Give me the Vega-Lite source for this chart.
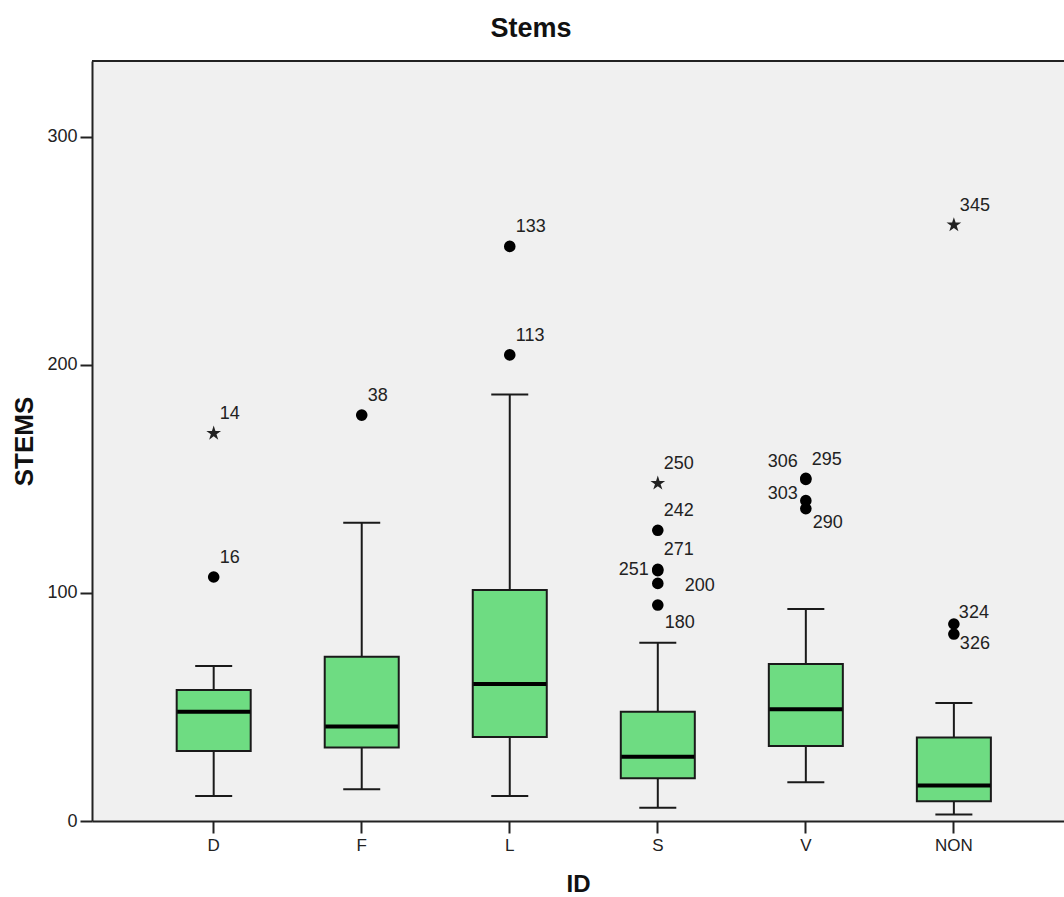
{
  "$schema": "https://vega.github.io/schema/vega-lite/v6.json",
  "autosize": {"type": "none"},
  "padding": {"left": 92, "top": 61, "right": 0, "bottom": 76},
  "width": 972,
  "height": 760,
  "background": "white",
  "title": {"text": "Stems", "fontSize": 27, "font": "Liberation Sans", "fontWeight": "bold", "color": "#111", "anchor": "middle", "dx": -47, "offset": 17},
  "datasets": {
    "boxes": [
      {"id": "D", "lower": 11, "q1": 30.7, "median": 47.9, "q3": 57.5, "upper": 68},
      {"id": "F", "lower": 13.9, "q1": 32.2, "median": 41.4, "q3": 72, "upper": 130.8},
      {"id": "L", "lower": 11, "q1": 36.8, "median": 60.1, "q3": 101.3, "upper": 187},
      {"id": "S", "lower": 5.8, "q1": 18.7, "median": 28.2, "q3": 47.9, "upper": 78.2},
      {"id": "V", "lower": 17, "q1": 32.9, "median": 49, "q3": 68.9, "upper": 93},
      {"id": "NON", "lower": 2.8, "q1": 8.7, "median": 15.6, "q3": 36.6, "upper": 51.8}
    ],
    "outliers": [
      {"id": "D", "case": 14, "stems": 170, "kind": "extreme"},
      {"id": "D", "case": 16, "stems": 107, "kind": "outlier"},
      {"id": "F", "case": 38, "stems": 178, "kind": "outlier"},
      {"id": "L", "case": 113, "stems": 204.4, "kind": "outlier"},
      {"id": "L", "case": 133, "stems": 252, "kind": "outlier"},
      {"id": "S", "case": 250, "stems": 148.1, "kind": "extreme"},
      {"id": "S", "case": 242, "stems": 127.5, "kind": "outlier"},
      {"id": "S", "case": 271, "stems": 110.4, "kind": "outlier"},
      {"id": "S", "case": 251, "stems": 109.8, "kind": "outlier"},
      {"id": "S", "case": 200, "stems": 104.2, "kind": "outlier"},
      {"id": "S", "case": 180, "stems": 94.7, "kind": "outlier"},
      {"id": "V", "case": 306, "stems": 150.3, "kind": "outlier"},
      {"id": "V", "case": 295, "stems": 149.8, "kind": "outlier"},
      {"id": "V", "case": 303, "stems": 140.5, "kind": "outlier"},
      {"id": "V", "case": 290, "stems": 137, "kind": "outlier"},
      {"id": "NON", "case": 345, "stems": 261.4, "kind": "extreme"},
      {"id": "NON", "case": 324, "stems": 86.4, "kind": "outlier"},
      {"id": "NON", "case": 326, "stems": 82, "kind": "outlier"}
    ]
  },
  "layer": [
    {
      "encoding": {
        "x": {
          "field": "id", "type": "nominal",
          "sort": ["D", "F", "L", "S", "V", "NON"],
          "scale": {"type": "band", "domain": ["D", "F", "L", "S", "V", "NON"], "paddingInner": 0, "paddingOuter": 0.283, "align": 0.569},
          "axis": {
            "title": "ID", "titleFontSize": 24, "titleFontWeight": "bold", "titleColor": "#111",
            "titleY": 63, "titleBaseline": "middle",
            "labelAngle": 0, "labelFontSize": 17, "labelColor": "#222", "labelPadding": 4,
            "tickSize": 12, "tickWidth": 2, "tickColor": "#222",
            "domainColor": "#222", "domainWidth": 2
          }
        }
      },
      "layer": [
        {
          "data": {"name": "boxes"},
          "mark": {"type": "rule", "strokeWidth": 2, "color": "#1a1a1a", "opacity": 1},
          "encoding": {
            "y": {
              "field": "lower", "type": "quantitative",
              "scale": {"domain": [0, 333.3], "nice": false, "zero": true},
              "axis": {
                "title": "STEMS", "titleFontSize": 26, "titleFontWeight": "bold", "titleColor": "#111",
                "titleX": -68, "titleY": 380, "titleAngle": 270, "titleAlign": "center", "titleBaseline": "middle",
                "values": [0, 100, 200, 300], "grid": false,
                "labelFontSize": 18, "labelColor": "#222", "labelPadding": 3,
                "tickSize": 12, "tickWidth": 2, "tickColor": "#222",
                "domainColor": "#222", "domainWidth": 2
              }
            },
            "y2": {"field": "upper"}
          }
        },
        {
          "data": {"name": "boxes"},
          "mark": {"type": "tick", "orient": "horizontal", "size": 37, "thickness": 2, "color": "#1a1a1a", "opacity": 1},
          "encoding": {"y": {"field": "lower", "type": "quantitative"}}
        },
        {
          "data": {"name": "boxes"},
          "mark": {"type": "tick", "orient": "horizontal", "size": 37, "thickness": 2, "color": "#1a1a1a", "opacity": 1},
          "encoding": {"y": {"field": "upper", "type": "quantitative"}}
        },
        {
          "data": {"name": "boxes"},
          "mark": {"type": "bar", "width": {"band": 0.5}, "fill": "#6edc82", "stroke": "#1a1a1a", "strokeWidth": 2, "opacity": 1},
          "encoding": {"y": {"field": "q1", "type": "quantitative"}, "y2": {"field": "q3"}}
        },
        {
          "data": {"name": "boxes"},
          "mark": {"type": "tick", "orient": "horizontal", "size": 73, "thickness": 4, "color": "#000", "opacity": 1},
          "encoding": {"y": {"field": "median", "type": "quantitative"}}
        },
        {
          "data": {"name": "outliers"},
          "transform": [{"filter": "datum.kind == 'outlier'"}],
          "mark": {"type": "point", "shape": "circle", "filled": true, "size": 135, "color": "#000", "opacity": 1},
          "encoding": {"y": {"field": "stems", "type": "quantitative"}}
        },
        {
          "data": {"name": "outliers"},
          "transform": [{"filter": "datum.kind == 'extreme'"}],
          "mark": {"type": "point", "shape": "M0,-1L0.2245,-0.309L0.9511,-0.309L0.3633,0.118L0.5878,0.809L0,0.382L-0.5878,0.809L-0.3633,0.118L-0.9511,-0.309L-0.2245,-0.309Z", "filled": true, "size": 240, "color": "#222", "opacity": 1},
          "encoding": {"y": {"field": "stems", "type": "quantitative"}}
        },
        {
          "data": {"name": "outliers"},
          "transform": [{"filter": {"field": "case", "oneOf": [14, 16, 38, 133, 113, 250, 242, 271, 295, 345]}}],
          "mark": {"type": "text", "align": "left", "baseline": "middle", "dx": 6, "dy": -19, "fontSize": 18, "color": "#222"},
          "encoding": {"y": {"field": "stems", "type": "quantitative"}, "text": {"field": "case"}}
        },
        {
          "data": {"name": "outliers"},
          "transform": [{"filter": {"field": "case", "oneOf": [251]}}],
          "mark": {"type": "text", "align": "right", "baseline": "middle", "dx": -9, "dy": -1, "fontSize": 18, "color": "#222"},
          "encoding": {"y": {"field": "stems", "type": "quantitative"}, "text": {"field": "case"}}
        },
        {
          "data": {"name": "outliers"},
          "transform": [{"filter": {"field": "case", "oneOf": [306]}}],
          "mark": {"type": "text", "align": "right", "baseline": "middle", "dx": -8, "dy": -16, "fontSize": 18, "color": "#222"},
          "encoding": {"y": {"field": "stems", "type": "quantitative"}, "text": {"field": "case"}}
        },
        {
          "data": {"name": "outliers"},
          "transform": [{"filter": {"field": "case", "oneOf": [303]}}],
          "mark": {"type": "text", "align": "right", "baseline": "middle", "dx": -8, "dy": -7, "fontSize": 18, "color": "#222"},
          "encoding": {"y": {"field": "stems", "type": "quantitative"}, "text": {"field": "case"}}
        },
        {
          "data": {"name": "outliers"},
          "transform": [{"filter": {"field": "case", "oneOf": [200]}}],
          "mark": {"type": "text", "align": "left", "baseline": "middle", "dx": 27, "dy": 3, "fontSize": 18, "color": "#222"},
          "encoding": {"y": {"field": "stems", "type": "quantitative"}, "text": {"field": "case"}}
        },
        {
          "data": {"name": "outliers"},
          "transform": [{"filter": {"field": "case", "oneOf": [180]}}],
          "mark": {"type": "text", "align": "left", "baseline": "middle", "dx": 7, "dy": 18, "fontSize": 18, "color": "#222"},
          "encoding": {"y": {"field": "stems", "type": "quantitative"}, "text": {"field": "case"}}
        },
        {
          "data": {"name": "outliers"},
          "transform": [{"filter": {"field": "case", "oneOf": [290]}}],
          "mark": {"type": "text", "align": "left", "baseline": "middle", "dx": 7, "dy": 14, "fontSize": 18, "color": "#222"},
          "encoding": {"y": {"field": "stems", "type": "quantitative"}, "text": {"field": "case"}}
        },
        {
          "data": {"name": "outliers"},
          "transform": [{"filter": {"field": "case", "oneOf": [326]}}],
          "mark": {"type": "text", "align": "left", "baseline": "middle", "dx": 6, "dy": 10, "fontSize": 18, "color": "#222"},
          "encoding": {"y": {"field": "stems", "type": "quantitative"}, "text": {"field": "case"}}
        },
        {
          "data": {"name": "outliers"},
          "transform": [{"filter": {"field": "case", "oneOf": [324]}}],
          "mark": {"type": "text", "align": "left", "baseline": "middle", "dx": 5, "dy": -11, "fontSize": 18, "color": "#222"},
          "encoding": {"y": {"field": "stems", "type": "quantitative"}, "text": {"field": "case"}}
        }
      ]
    },
    {
      "data": {"values": [{}]},
      "mark": {"type": "rule", "strokeWidth": 2, "color": "#222"},
      "encoding": {"y": {"datum": 333.3, "type": "quantitative"}}
    }
  ],
  "config": {
    "font": "Liberation Sans",
    "view": {"fill": "#f0f0f0", "stroke": null}
  }
}
